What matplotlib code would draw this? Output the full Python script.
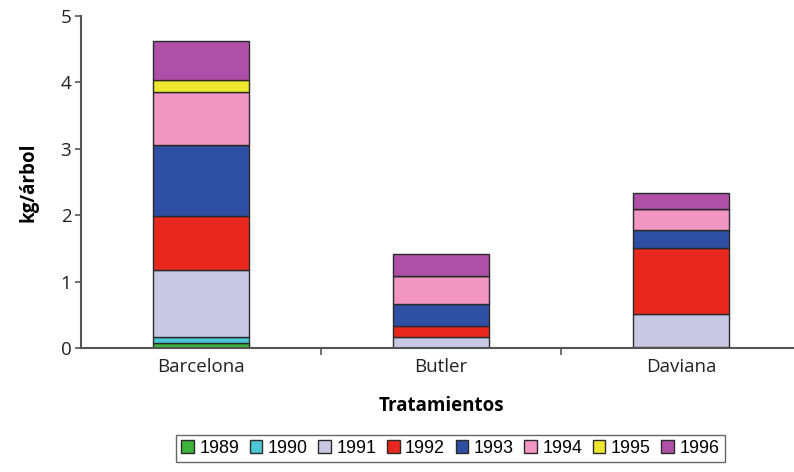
import numpy as np
import matplotlib
matplotlib.use("Agg")
import matplotlib.pyplot as plt

categories = ["Barcelona", "Butler", "Daviana"]
years = ["1989", "1990", "1991", "1992", "1993", "1994", "1995", "1996"]

# kg/árbol per year, per treatment (Barcelona, Butler, Daviana)
y1989 = [0.07, 0.00, 0.01]
y1990 = [0.09, 0.00, 0.01]
y1991 = [1.01, 0.16, 0.49]
y1992 = [0.81, 0.17, 1.00]
y1993 = [1.07, 0.33, 0.26]
y1994 = [0.81, 0.42, 0.32]
y1995 = [0.17, 0.01, 0.01]
y1996 = [0.59, 0.32, 0.23]

series = [y1989, y1990, y1991, y1992, y1993, y1994, y1995, y1996]
colors = ["#3cb43c", "#4cc6d6", "#c8c8e4", "#e8281e", "#2f4fa2",
          "#f096c0", "#efe630", "#ae50a8"]

fig = plt.figure(figsize=(7.94, 4.72), dpi=100)
ax = fig.add_axes([0.102, 0.263, 0.907, 0.703])

x = np.arange(len(categories))
bottom = np.zeros(len(categories))
for yr, vals, c in zip(years, series, colors):
    ax.bar(x, vals, 0.4, bottom=bottom, color=c, edgecolor="#2a2a2a",
           linewidth=1.0, label=yr)
    bottom += np.array(vals)

ax.set_xlim(-0.5, 2.5)
ax.set_ylim(0, 5)
ax.set_yticks(range(6))
ax.set_xticks(x)
ax.set_xticklabels(categories)
ax.set_xticks([0.5, 1.5], minor=True)
ax.tick_params(axis="x", which="major", length=0, pad=7, labelsize=13.5)
ax.tick_params(axis="x", which="minor", length=5, width=1.2, color="#555555")
ax.tick_params(axis="y", length=4, width=1.2, color="#555555", labelsize=13.5, pad=3)

for s in ["top", "right"]:
    ax.spines[s].set_visible(False)
for s in ["left", "bottom"]:
    ax.spines[s].set_color("#555555")
    ax.spines[s].set_linewidth(1.5)

for lab in ax.get_xticklabels() + ax.get_yticklabels():
    lab.set_family("Open Sans")
    lab.set_color("#222222")

ax.set_ylabel("kg/árbol", fontsize=13.5, fontweight="bold", family="Open Sans", labelpad=16)
ax.set_xlabel("Tratamientos", fontsize=13.5, fontweight="bold", family="Open Sans", labelpad=15)

leg = fig.legend(loc="center", bbox_to_anchor=(0.567, 0.05), ncol=8,
                 prop={"family": "Liberation Sans", "size": 12.9},
                 handlelength=0.7, handleheight=0.7, handletextpad=0.3,
                 columnspacing=0.6, borderpad=0.3, fancybox=False,
                 edgecolor="#666666", framealpha=1)
leg.get_frame().set_linewidth(1.0)

fig.savefig("out.png", dpi=100)
